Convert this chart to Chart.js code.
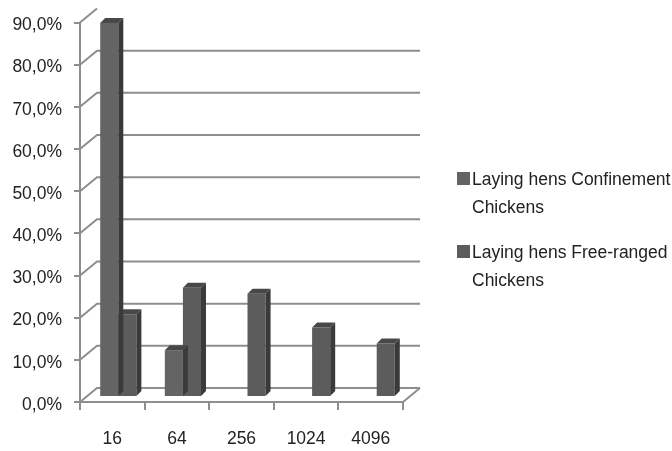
<!DOCTYPE html>
<html>
<head>
<meta charset="utf-8">
<script src="https://cdn.jsdelivr.net/npm/chart.js@4/dist/chart.umd.min.js"></script>
<style>
  html, body { margin: 0; padding: 0; background: #fff; overflow: hidden; }
  #wrap { position: relative; width: 672px; height: 451px; }
  #legend { position: absolute; left: 0; top: 0; color: #222; }
  .sw { position: absolute; width: 13px; height: 13px; }
  .txt { position: absolute; line-height: 28px; white-space: nowrap; }
</style>
</head>
<body>
<div id="wrap">
  <canvas id="c" width="672" height="451"></canvas>
  <div id="legend"></div>
</div>
<script>
const categories = ['16', '64', '256', '1024', '4096'];
const confinement = [88.7, 11.1, 0, 0, 0];
const freeRanged = [19.6, 25.9, 24.5, 16.5, 12.7];
const seriesLabels = ['Laying hens Confinement Chickens', 'Laying hens Free-ranged Chickens'];
const legendLines = [['Laying hens Confinement', 'Chickens'], ['Laying hens Free-ranged', 'Chickens']];
const yMax = 90;
const yStep = 10;

// pick a narrow font if it is installed
const probe = document.createElement('canvas').getContext('2d');
probe.font = '20px monospace';
const wMono = probe.measureText('Laying hens 90,0%').width;
probe.font = '20px "Liberation Sans Narrow", monospace';
const hasNarrow = Math.abs(probe.measureText('Laying hens 90,0%').width - wMono) > 0.5;
const FAMILY = hasNarrow ? '"Liberation Sans Narrow", "Liberation Sans", sans-serif' : '"Liberation Sans", Arial, sans-serif';
const TICK_SIZE = hasNarrow ? 20.5 : 17.5;
const LEG_SIZE = hasNarrow ? 21 : 17.5;

const FONT = { family: FAMILY, size: TICK_SIZE };
const LINE = '#8e8e8e';
const frontColors = ['#646464', '#5c5c5c'];
const SIDE = '#3a3a3a';
const TOP = '#484848';
const WALL = { dx: 17, dy: -14 };
const BAR = { dx: 6, dy: -5 };
const FACE = { dx: 5, dy: -5 };

const threeD = {
  id: 'threeD',
  beforeDatasetsDraw(chart) {
    const ctx = chart.ctx;
    const ys = chart.scales.y;
    const a = chart.chartArea;
    ctx.save();
    ctx.strokeStyle = LINE;
    ctx.lineWidth = 2;
    ys.ticks.forEach(t => {
      const y = ys.getPixelForValue(t.value);
      ctx.beginPath();
      ctx.moveTo(a.left, y);
      ctx.lineTo(a.left + WALL.dx, y + WALL.dy);
      if (t.value < yMax) ctx.lineTo(a.right + WALL.dx, y + WALL.dy);
      ctx.stroke();
    });
    ctx.beginPath();
    ctx.moveTo(a.right, a.bottom);
    ctx.lineTo(a.right + WALL.dx, a.bottom + WALL.dy);
    ctx.stroke();
    ctx.restore();
    ctx.save();
    ctx.translate(BAR.dx, BAR.dy);
  },
  afterDatasetDraw(chart, args) {
    const ctx = chart.ctx;
    const meta = args.meta;
    const data = chart.data.datasets[args.index].data;
    meta.data.forEach((el, i) => {
      if (!data[i]) return;
      const p = el.getProps(['x', 'y', 'base', 'width'], true);
      const l = p.x - p.width / 2, r = p.x + p.width / 2, top = p.y, base = p.base;
      ctx.fillStyle = SIDE;
      ctx.beginPath();
      ctx.moveTo(r, top);
      ctx.lineTo(r + FACE.dx, top + FACE.dy);
      ctx.lineTo(r + FACE.dx, base + FACE.dy);
      ctx.lineTo(r, base);
      ctx.closePath();
      ctx.fill();
      ctx.fillStyle = TOP;
      ctx.beginPath();
      ctx.moveTo(l, top);
      ctx.lineTo(l + FACE.dx, top + FACE.dy);
      ctx.lineTo(r + FACE.dx, top + FACE.dy);
      ctx.lineTo(r, top);
      ctx.closePath();
      ctx.fill();
    });
  },
  afterDatasetsDraw(chart) {
    chart.ctx.restore();
  }
};

const chart = new Chart(document.getElementById('c'), {
  type: 'bar',
  data: {
    labels: categories,
    datasets: [
      { label: seriesLabels[0], data: confinement, backgroundColor: frontColors[0], borderWidth: 0, clip: false },
      { label: seriesLabels[1], data: freeRanged, backgroundColor: frontColors[1], borderWidth: 0, clip: false }
    ]
  },
  options: {
    responsive: false,
    animation: false,
    events: [],
    categoryPercentage: 0.56,
    barPercentage: 1.0,
    layout: { padding: { top: 20, right: 269, left: 0, bottom: 0 } },
    plugins: { legend: { display: false }, tooltip: { enabled: false } },
    scales: {
      x: {
        afterFit(s) { s.height = 49; },
        grid: { display: true, drawOnChartArea: false, drawTicks: true, tickLength: 8, color: LINE, lineWidth: 2, offset: true },
        border: { display: true, color: LINE, width: 2 },
        ticks: { font: FONT, color: '#222', padding: 19, maxRotation: 0 }
      },
      y: {
        min: 0,
        max: yMax,
        afterFit(s) { s.width = 80; },
        grid: { display: true, drawOnChartArea: false, drawTicks: true, tickLength: 6, color: LINE, lineWidth: 2 },
        border: { display: true, color: LINE, width: 2 },
        ticks: {
          stepSize: yStep,
          font: FONT,
          color: '#222',
          padding: 12,
          labelOffset: 3,
          callback: v => v.toFixed(1).replace('.', ',') + '%'
        }
      }
    }
  },
  plugins: [threeD]
});

// HTML legend built from the datasets
const legend = document.getElementById('legend');
legend.style.fontFamily = FAMILY;
legend.style.fontSize = LEG_SIZE + 'px';
const legendPos = [{ sq: [457, 172], tx: [472, 165] }, { sq: [457, 245], tx: [472, 238] }];
chart.data.datasets.forEach((ds, i) => {
  const sw = document.createElement('div');
  sw.className = 'sw';
  sw.style.left = legendPos[i].sq[0] + 'px';
  sw.style.top = legendPos[i].sq[1] + 'px';
  sw.style.background = ds.backgroundColor;
  legend.appendChild(sw);
  const tx = document.createElement('div');
  tx.className = 'txt';
  tx.style.left = legendPos[i].tx[0] + 'px';
  tx.style.top = legendPos[i].tx[1] + 'px';
  tx.innerHTML = legendLines[i].join('<br>');
  legend.appendChild(tx);
});
</script>
</body>
</html>
